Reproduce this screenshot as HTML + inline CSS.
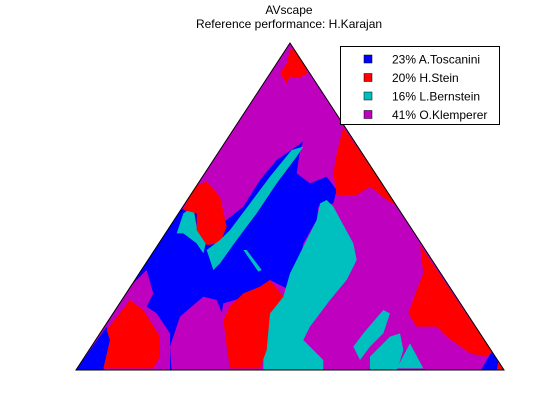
<!DOCTYPE html>
<html><head><meta charset="utf-8"><style>
html,body{margin:0;padding:0;background:#fff;}
svg{display:block;font-family:"Liberation Sans",sans-serif;}
</style></head><body>
<svg id="chart" width="560" height="420" viewBox="0 0 560 420">
<text x="289" y="14" font-size="12" text-anchor="middle">AVscape</text>
<text x="289" y="28" font-size="12" text-anchor="middle">Reference performance: H.Karajan</text>
<defs><clipPath id="tri"><polygon points="290,43 76,370 504,370"/></clipPath></defs>
<g clip-path="url(#tri)">
<polygon points="290,43 76,370 504,370" fill="#bf00bf"/>
<g id="regions" transform="translate(70,40) scale(0.33333)"></g>
</g>
<polygon points="290,43 76,370 504,370" fill="none" stroke="#000" stroke-width="1"/>
<g id="legend">
<rect x="340.5" y="46.5" width="159" height="78" fill="#fff" stroke="#000"/>
</g>
</svg>
<script>
const names = ["A.Toscanini","H.Stein","L.Bernstein","O.Klemperer"];
const percents = [23,20,16,41];
const colors = ["#0000ff","#ff0000","#00bfbf","#bf00bf"];
const regionColor = [0,1,1,2,1,2,2,2,0,3,1,1,1,0,2,2,1,3,2];
const regionPts = [
"700,305 690,330 680,400 720,430 770,410 800,450 790,490 745,500 740,540 700,610 690,660 660,700 650,745 600,720 560,750 530,770 460,790 450,850 460,900 470,990 300,990 300,880 260,820 230,800 240,760 190,740 180,745 330,510 360,500 380,520 400,580 470,540 520,500 570,420 620,360",
"660,30 690,30 712,100 690,112 660,110 650,130 630,100 650,70",
"820,262 985,500 950,480 900,440 860,465 800,465 790,400 800,340",
"340,520 370,500 380,560 410,600 400,640 380,610 340,580 320,580",
"340,510 370,440 410,425 450,470 470,560 450,610 410,615 380,570 380,520",
"410,630 430,690 450,670 500,600 560,520 620,430 680,350 700,320 665,330 600,410 540,490 480,570 450,600",
"770,480 790,500 850,610 860,660 830,720 780,780 720,860 700,900 760,960 760,995 580,995 580,920 600,820 640,770 660,700 700,620 740,540 750,490",
"940,810 960,820 940,880 900,920 870,960 850,920 880,880",
"18,990 110,860 120,900 100,995",
"330,830 400,770 440,780 460,830 470,900 470,995 305,995 300,920",
"480,800 520,760 570,740 600,720 640,770 600,820 590,930 570,985 480,985 470,920 460,840",
"110,870 180,780 220,810 270,890 270,950 250,985 100,985 120,900",
"1050,615 1265,935 1250,950 1200,940 1130,890 1100,860 1040,860 1015,820 1040,750 1060,700",
"1265,935 1310,995 1230,995",
"900,950 960,890 990,880 1000,930 980,995 900,995",
"1020,910 1060,985 980,985",
"1290,930 1310,995 1280,995",
"180,740 230,690 250,760 230,800 200,780",
"520,630 530,630 575,690 565,695"
];
const NS="http://www.w3.org/2000/svg";
const g=document.getElementById('regions');
regionPts.forEach((p,i)=>{
  const el=document.createElementNS(NS,'polygon');
  el.setAttribute('points',p);
  el.setAttribute('fill',colors[regionColor[i]]);
  
  
  g.appendChild(el);
});
const lg=document.getElementById('legend');
names.forEach((n,i)=>{
  const y=59+i*18.5;
  const r=document.createElementNS(NS,'rect');
  r.setAttribute('x',364);r.setAttribute('y',y-4);r.setAttribute('width',8);r.setAttribute('height',8);
  r.setAttribute('fill',colors[i]);r.setAttribute('stroke','#000');r.setAttribute('stroke-width','0.5');
  
  
  lg.appendChild(r);
  const t=document.createElementNS(NS,'text');
  t.setAttribute('x',392);t.setAttribute('y',y+4.5);t.setAttribute('font-size','12');
  t.textContent=percents[i]+'% '+n;
  
  
  lg.appendChild(t);
});
</script>
</body></html>
